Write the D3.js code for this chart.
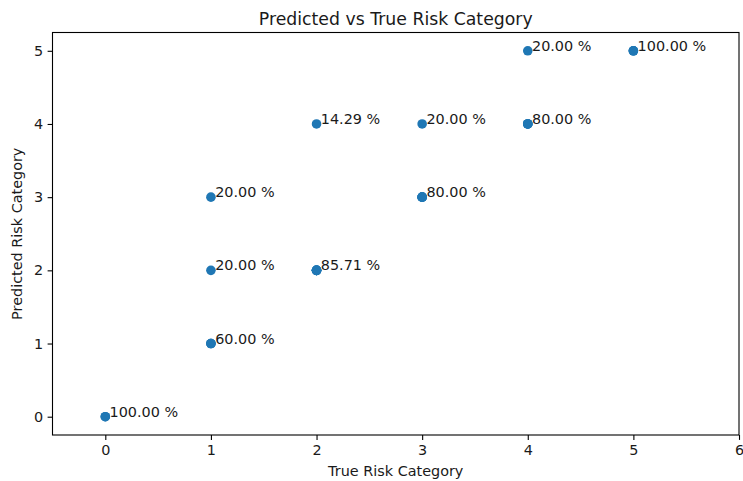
<!DOCTYPE html>
<html><head><meta charset="utf-8">
<script src="https://cdn.jsdelivr.net/npm/d3@7"></script>
<style>body{margin:0;background:#fff}svg{display:block}text{font-family:"DejaVu Sans",sans-serif;fill:#1a1a1a}</style>
</head><body>
<script>
const trueCat = [0, 1, 1, 1, 2, 2, 3, 3, 4, 4, 5];
const predCat = [0, 1, 2, 3, 2, 4, 3, 4, 4, 5, 5];
const counts  = [2, 3, 1, 1, 6, 1, 4, 1, 4, 1, 3];
const labels  = ["100.00 %","60.00 %","20.00 %","20.00 %","85.71 %","14.29 %","80.00 %","20.00 %","80.00 %","20.00 %","100.00 %"];
const xTicks = [0,1,2,3,4,5,6];
const yTicks = [0,1,2,3,4,5];

const W=743,H=481, m={l:52.5,r:4,t:32.5,b:46};
const FS="14.4px";
const svg=d3.select("body").append("svg").attr("width",W).attr("height",H);
const x=d3.scaleLinear().domain([-0.5,6]).range([m.l,W-m.r]);
const y=d3.scaleLinear().domain([-0.25,5.25]).range([H-m.b,m.t]);

const pts=[];
trueCat.forEach((t,i)=>{for(let k=0;k<counts[i];k++)pts.push({t,p:predCat[i]});});
svg.append("g").selectAll("circle").data(pts).join("circle")
  .attr("cx",d=>x(d.t)).attr("cy",d=>y(d.p)).attr("r",4.8).attr("fill","#1f77b4");

svg.append("g").selectAll("text").data(trueCat).join("text")
  .attr("x",(d,i)=>x(d+0.04)).attr("y",(d,i)=>y(predCat[i]))
  .attr("font-size",FS).text((d,i)=>labels[i]);

const xa=svg.append("g").attr("transform",`translate(0,${H-m.b})`)
  .call(d3.axisBottom(x).tickValues(xTicks).tickSize(4.9).tickPadding(4.5).tickFormat(d3.format("d")));
const ya=svg.append("g").attr("transform",`translate(${m.l},0)`)
  .call(d3.axisLeft(y).tickValues(yTicks).tickSize(4.9).tickPadding(4.5).tickFormat(d3.format("d")));
[xa,ya].forEach(a=>{a.select(".domain").remove();a.selectAll("line").attr("stroke","#000").attr("stroke-width",1.1);
  a.selectAll("text").attr("font-size",FS).attr("font-family","DejaVu Sans").attr("fill","#1a1a1a");});

svg.append("rect").attr("x",m.l).attr("y",m.t).attr("width",W-m.r-m.l).attr("height",H-m.b-m.t)
  .attr("fill","none").attr("stroke","#000").attr("stroke-width",1.1);

svg.append("text").attr("x",(m.l+W-m.r)/2).attr("y",24.5).attr("text-anchor","middle")
  .attr("font-size","17.3px").text("Predicted vs True Risk Category");
svg.append("text").attr("x",(m.l+W-m.r)/2).attr("y",476).attr("text-anchor","middle")
  .attr("font-size",FS).text("True Risk Category");
svg.append("text").attr("transform",`translate(22,${(m.t+H-m.b)/2}) rotate(-90)`).attr("text-anchor","middle")
  .attr("font-size",FS).text("Predicted Risk Category");
</script>
</body></html>
